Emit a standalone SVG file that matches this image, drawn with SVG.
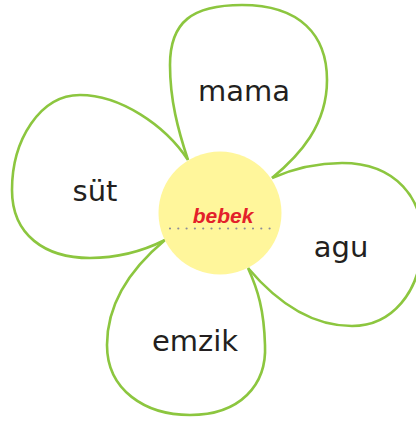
<svg xmlns="http://www.w3.org/2000/svg" width="416" height="422" viewBox="0 0 416 422">
<style>
.petal{fill:#fff;stroke:#8cc63f;stroke-width:2.6;stroke-linejoin:round}
.w{font-family:"DejaVu Sans","Noto Sans",sans-serif;font-size:29px;fill:#231f20;text-anchor:middle}
.c{font-family:"Liberation Sans",Arial,sans-serif;font-size:21px;font-weight:bold;font-style:italic;fill:#e3202a;text-anchor:middle}
</style>
<g id="petal-top"><path class="petal" d="M188,160 C178,130 170,100 170,65 C170,22 192,5 242,5 C300,5 327,35 327,80 C327,125 300,155 272,178"/><text class="w" x="244" y="101">mama</text></g>
<g id="petal-left"><path class="petal" d="M188,160 C165,125 120,95 80,95 C40,95 12,140 12,190 C12,235 45,258 90,258 C120,258 145,250 165,240"/><text class="w" x="95" y="201">süt</text></g>
<g id="petal-right"><path class="petal" d="M272,178 C295,168 318,163 342,163 C395,163 425,198 422,245 C420,292 392,326 352,326 C310,326 275,300 248,268"/><text class="w" x="341" y="257">agu</text></g>
<g id="petal-bottom"><path class="petal" d="M165,240 C135,265 107,300 107,345 C107,390 145,415 190,415 C240,415 267,385 265,345 C264,310 258,290 248,268"/><text class="w" x="195" y="351">emzik</text></g>
<g id="center"><circle cx="220" cy="213" r="61.5" fill="#fff69b"/><text class="c" x="223" y="223">bebek</text><line x1="170" y1="228.5" x2="270" y2="228.5" stroke="#8c8c99" stroke-width="2.2" stroke-linecap="round" stroke-dasharray="0 8.3"/></g>
</svg>
